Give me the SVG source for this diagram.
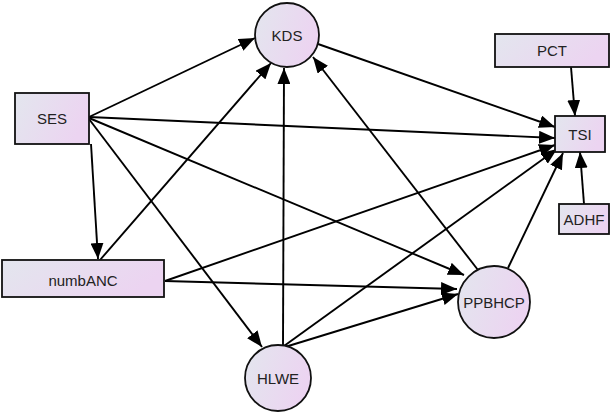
<svg xmlns="http://www.w3.org/2000/svg" width="615" height="413" viewBox="0 0 615 413">
<style>
.node{stroke:#111;stroke-width:1.8;fill:url(#g)}
.lbl{font-family:"Liberation Sans",Arial,sans-serif;font-size:15px;fill:#222;text-anchor:middle;dominant-baseline:central}
.edge{stroke:#000;stroke-width:1.9;fill:none;marker-end:url(#ah)}
</style>
<defs>
<linearGradient id="g" x1="0" y1="0" x2="1" y2="0.3">
<stop offset="0" stop-color="#e3e6ee"/>
<stop offset="1" stop-color="#ecd4f1"/>
</linearGradient>
<marker id="ah" markerUnits="userSpaceOnUse" markerWidth="17" markerHeight="13" refX="16" refY="6.5" orient="auto">
<path d="M0,0 L16,6.5 L0,13 Z" fill="#000"/>
</marker>
</defs>
<g id="connectors">
<line class="edge" x1="89" y1="117" x2="255" y2="38"/>
<line class="edge" x1="89" y1="117" x2="555" y2="138"/>
<line class="edge" x1="91" y1="144" x2="98" y2="259"/>
<line class="edge" x1="89" y1="119" x2="262" y2="347"/>
<line class="edge" x1="89" y1="118" x2="464" y2="275"/>
<line class="edge" x1="100" y1="260" x2="271" y2="63"/>
<line class="edge" x1="165" y1="281" x2="555" y2="145"/>
<line class="edge" x1="165" y1="281" x2="457" y2="289"/>
<line class="edge" x1="283" y1="346" x2="284" y2="68"/>
<line class="edge" x1="284" y1="346" x2="557" y2="149"/>
<line class="edge" x1="285" y1="347" x2="458" y2="294"/>
<line class="edge" x1="318" y1="44" x2="555" y2="127"/>
<line class="edge" x1="478" y1="270" x2="313" y2="57"/>
<line class="edge" x1="508" y1="268" x2="563" y2="153"/>
<line class="edge" x1="571" y1="67" x2="575" y2="116"/>
<line class="edge" x1="584" y1="204" x2="580" y2="152"/>
</g>
<g id="KDS"><circle class="node" cx="287" cy="35" r="32"/><text class="lbl" x="287" y="35">KDS</text></g>
<g id="SES"><rect class="node" x="15" y="93" width="74" height="51"/><text class="lbl" x="52" y="118">SES</text></g>
<g id="PCT"><rect class="node" x="495" y="34" width="114" height="33"/><text class="lbl" x="552" y="50">PCT</text></g>
<g id="TSI"><rect class="node" x="555" y="116" width="50" height="36"/><text class="lbl" x="580" y="134">TSI</text></g>
<g id="ADHF"><rect class="node" x="559" y="204" width="50" height="30"/><text class="lbl" x="584" y="219">ADHF</text></g>
<g id="numbANC"><rect class="node" x="2" y="260" width="162" height="37"/><text class="lbl" x="83" y="280">numbANC</text></g>
<g id="PPBHCP"><circle class="node" cx="494" cy="302" r="36"/><text class="lbl" x="494" y="302">PPBHCP</text></g>
<g id="HLWE"><circle class="node" cx="278" cy="378" r="33"/><text class="lbl" x="278" y="378">HLWE</text></g>
</svg>
